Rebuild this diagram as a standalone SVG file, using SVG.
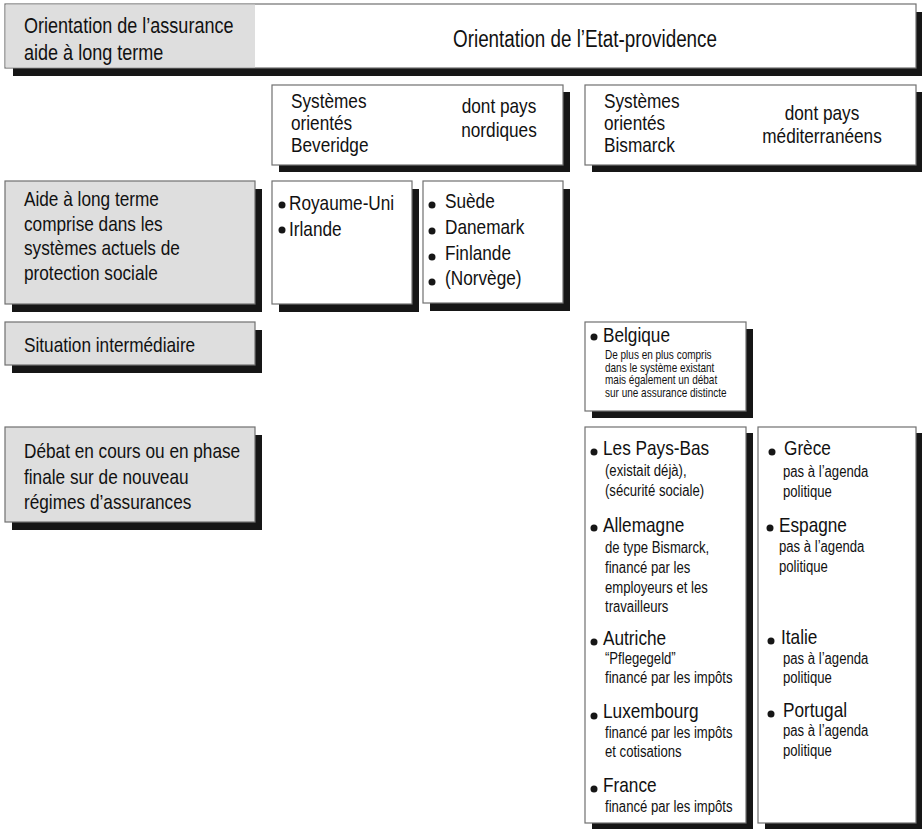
<svg xmlns="http://www.w3.org/2000/svg" width="922" height="830" viewBox="0 0 922 830">
<style>
.box{fill:#ffffff;stroke:#707070;stroke-width:1.2}
.gray{fill:#dedede}
.sh{fill:#161616}
.bul{fill:#161616}
text{font-family:'Liberation Sans',Arial,sans-serif;fill:#111111}
.h{font-size:22px}
.hb{font-size:23px}
.t{font-size:21px}
.s{font-size:16px}
.xs{font-size:12.2px}
.m{text-anchor:middle}
</style>
<rect width="922" height="830" fill="#ffffff"/>
<g id="connectors"/>
<g id="header">
<rect class="sh" x="13" y="12" width="911" height="64"/>
<rect class="box" x="5" y="4" width="911" height="64"/>
<rect class="gray" x="5.6" y="4.6" width="249.4" height="62.8"/>
<text class="h" transform="translate(24 33) scale(.82 1)">Orientation de l’assurance</text>
<text class="h" transform="translate(24 60) scale(.82 1)">aide à long terme</text>
<text class="hb m" transform="translate(585 47) scale(.82 1)">Orientation de l’Etat-providence</text>
</g>
<g id="beveridge-header">
<rect class="sh" x="279" y="92" width="291" height="80"/>
<rect class="box" x="272" y="85" width="291" height="80"/>
<text class="t" transform="translate(291 108) scale(.82 1)">Systèmes</text>
<text class="t" transform="translate(291 130) scale(.82 1)">orientés</text>
<text class="t" transform="translate(291 152) scale(.82 1)">Beveridge</text>
<text class="t m" transform="translate(499 113) scale(.82 1)">dont pays</text>
<text class="t m" transform="translate(499 137) scale(.82 1)">nordiques</text>
</g>
<g id="bismarck-header">
<rect class="sh" x="592" y="92" width="331" height="80"/>
<rect class="box" x="585" y="85" width="331" height="80"/>
<text class="t" transform="translate(604 108) scale(.82 1)">Systèmes</text>
<text class="t" transform="translate(604 130) scale(.82 1)">orientés</text>
<text class="t" transform="translate(604 152) scale(.82 1)">Bismarck</text>
<text class="t m" transform="translate(822 120) scale(.82 1)">dont pays</text>
<text class="t m" transform="translate(822 143) scale(.82 1)">méditerranéens</text>
</g>
<g id="row-aide">
<rect class="sh" x="12" y="189" width="250" height="123"/>
<rect class="box gray" x="5" y="181" width="250" height="123"/>
<text class="t" transform="translate(24 206) scale(.82 1)">Aide à long terme</text>
<text class="t" transform="translate(24 231) scale(.82 1)">comprise dans les</text>
<text class="t" transform="translate(24 255) scale(.82 1)">systèmes actuels de</text>
<text class="t" transform="translate(24 280) scale(.82 1)">protection sociale</text>
</g>
<g id="beveridge-list">
<rect class="sh" x="279" y="189" width="140" height="123"/>
<rect class="box" x="272" y="181" width="140" height="123"/>
<circle class="bul" cx="282" cy="205" r="3.5"/>
<text class="t" transform="translate(289 210) scale(.82 1)">Royaume-Uni</text>
<circle class="bul" cx="282" cy="230" r="3.5"/>
<text class="t" transform="translate(289 236) scale(.82 1)">Irlande</text>
</g>
<g id="nordic-list">
<rect class="sh" x="430" y="189" width="140" height="122"/>
<rect class="box" x="423" y="181" width="140" height="122"/>
<circle class="bul" cx="432" cy="205" r="3.5"/>
<text class="t" transform="translate(445 208) scale(.82 1)">Suède</text>
<circle class="bul" cx="432" cy="231" r="3.5"/>
<text class="t" transform="translate(445 234) scale(.82 1)">Danemark</text>
<circle class="bul" cx="432" cy="257" r="3.5"/>
<text class="t" transform="translate(445 260) scale(.82 1)">Finlande</text>
<circle class="bul" cx="432" cy="282" r="3.5"/>
<text class="t" transform="translate(445 285) scale(.82 1)">(Norvège)</text>
</g>
<g id="row-situation">
<rect class="sh" x="12" y="330" width="250" height="43"/>
<rect class="box gray" x="5" y="322" width="250" height="43"/>
<text class="t" transform="translate(24 352) scale(.82 1)">Situation intermédiaire</text>
</g>
<g id="belgique">
<rect class="sh" x="592" y="329" width="161" height="89"/>
<rect class="box" x="585" y="322" width="161" height="89"/>
<circle class="bul" cx="594" cy="337" r="3.5"/>
<text class="t" transform="translate(603 342) scale(.82 1)">Belgique</text>
<text class="xs" transform="translate(605 359) scale(.82 1)">De plus en plus compris</text>
<text class="xs" transform="translate(605 372) scale(.82 1)">dans le système existant</text>
<text class="xs" transform="translate(605 384) scale(.82 1)">mais également un débat</text>
<text class="xs" transform="translate(605 397) scale(.82 1)">sur une assurance distincte</text>
</g>
<g id="row-debat">
<rect class="sh" x="12" y="435" width="250" height="95"/>
<rect class="box gray" x="5" y="427" width="250" height="95"/>
<text class="t" transform="translate(24 458) scale(.82 1)">Débat en cours ou en phase</text>
<text class="t" transform="translate(24 484) scale(.82 1)">finale sur de nouveau</text>
<text class="t" transform="translate(24 509) scale(.82 1)">régimes d’assurances</text>
</g>
<g id="bismarck-list">
<rect class="sh" x="592" y="433" width="161" height="396"/>
<rect class="box" x="585" y="427" width="161" height="396"/>
<circle class="bul" cx="594" cy="452" r="3.5"/>
<text class="t" transform="translate(603 455) scale(.82 1)">Les Pays-Bas</text>
<text class="s" transform="translate(605 476) scale(.82 1)">(existait déjà),</text>
<text class="s" transform="translate(605 496) scale(.82 1)">(sécurité sociale)</text>
<circle class="bul" cx="594" cy="528" r="3.5"/>
<text class="t" transform="translate(603 532) scale(.82 1)">Allemagne</text>
<text class="s" transform="translate(605 553) scale(.82 1)">de type Bismarck,</text>
<text class="s" transform="translate(605 573) scale(.82 1)">financé par les</text>
<text class="s" transform="translate(605 593) scale(.82 1)">employeurs et les</text>
<text class="s" transform="translate(605 612) scale(.82 1)">travailleurs</text>
<circle class="bul" cx="594" cy="642" r="3.5"/>
<text class="t" transform="translate(603 645) scale(.82 1)">Autriche</text>
<text class="s" transform="translate(605 664) scale(.82 1)">“Pflegegeld”</text>
<text class="s" transform="translate(605 683) scale(.82 1)">financé par les impôts</text>
<circle class="bul" cx="594" cy="716" r="3.5"/>
<text class="t" transform="translate(603 718) scale(.82 1)">Luxembourg</text>
<text class="s" transform="translate(605 738) scale(.82 1)">financé par les impôts</text>
<text class="s" transform="translate(605 757) scale(.82 1)">et cotisations</text>
<circle class="bul" cx="594" cy="789" r="3.5"/>
<text class="t" transform="translate(603 792) scale(.82 1)">France</text>
<text class="s" transform="translate(605 812) scale(.82 1)">financé par les impôts</text>
</g>
<g id="mediterranean-list">
<rect class="sh" x="765" y="433" width="159" height="396"/>
<rect class="box" x="758" y="427" width="158" height="396"/>
<circle class="bul" cx="772" cy="452" r="3.5"/>
<text class="t" transform="translate(784 455) scale(.82 1)">Grèce</text>
<text class="s" transform="translate(783 477) scale(.82 1)">pas à l’agenda</text>
<text class="s" transform="translate(783 497) scale(.82 1)">politique</text>
<circle class="bul" cx="770" cy="528" r="3.5"/>
<text class="t" transform="translate(779 532) scale(.82 1)">Espagne</text>
<text class="s" transform="translate(779 552) scale(.82 1)">pas à l’agenda</text>
<text class="s" transform="translate(779 572) scale(.82 1)">politique</text>
<circle class="bul" cx="771" cy="641" r="3.5"/>
<text class="t" transform="translate(781 644) scale(.82 1)">Italie</text>
<text class="s" transform="translate(783 664) scale(.82 1)">pas à l’agenda</text>
<text class="s" transform="translate(783 683) scale(.82 1)">politique</text>
<circle class="bul" cx="771" cy="714" r="3.5"/>
<text class="t" transform="translate(783 717) scale(.82 1)">Portugal</text>
<text class="s" transform="translate(783 736) scale(.82 1)">pas à l’agenda</text>
<text class="s" transform="translate(783 756) scale(.82 1)">politique</text>
</g>
</svg>
